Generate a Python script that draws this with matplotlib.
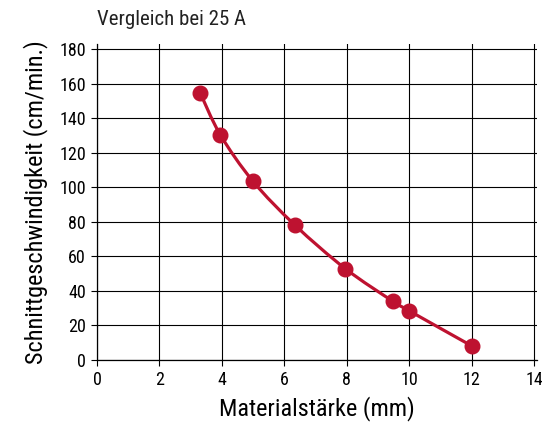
import matplotlib.pyplot as plt
from matplotlib import font_manager
from matplotlib.path import Path
from matplotlib.patches import PathPatch

thickness = [3.3, 3.95, 5.0, 6.35, 7.95, 9.48, 10.0, 12.02]
speed = [155, 130.5, 103.5, 78, 53, 34, 28.5, 8]

xticks = list(range(0, 15, 2))
yticks = list(range(0, 181, 20))

names = {f.name for f in font_manager.fontManager.ttflist}
fam = [n for n in ["Roboto Condensed", "Liberation Sans Narrow", "Roboto"] if n in names] + ["DejaVu Sans"]
plt.rcParams['font.family'] = fam

red = '#BE1230'

fig = plt.figure(figsize=(5.42, 4.25), dpi=100)
ax = fig.add_axes([0.179, 0.153, 0.812, 0.743])

# smooth line through the points (Catmull-Rom as cubic Bezier)
pts = list(zip(thickness, speed))
verts = [pts[0]]
codes = [Path.MOVETO]
for i in range(len(pts) - 1):
    p0 = pts[i - 1] if i > 0 else pts[i]
    p1, p2 = pts[i], pts[i + 1]
    p3 = pts[i + 2] if i + 2 < len(pts) else pts[i + 1]
    c1 = (p1[0] + (p2[0] - p0[0]) / 6, p1[1] + (p2[1] - p0[1]) / 6)
    c2 = (p2[0] - (p3[0] - p1[0]) / 6, p2[1] - (p3[1] - p1[1]) / 6)
    verts += [c1, c2, p2]
    codes += [Path.CURVE4] * 3
ax.add_patch(PathPatch(Path(verts, codes), facecolor='none', edgecolor=red,
                       linewidth=2.3, capstyle='round', zorder=3))
ax.plot(thickness, speed, linestyle='none', color=red, marker='o', markersize=10.5, zorder=4)

ax.set_xlim(0, 14.1)
ax.set_ylim(0, 183)
ax.set_xticks(xticks)
ax.set_yticks(yticks)
ax.grid(True, color='black', linewidth=0.8)
ax.set_axisbelow(True)
for side in ['top', 'right']:
    ax.spines[side].set_visible(False)
for side in ['left', 'bottom']:
    ax.spines[side].set_linewidth(0.9)
ax.tick_params(direction='out', length=4, width=0.8, labelsize=13, pad=4)

ax.set_xlabel('Materialstärke (mm)', fontsize=17.5, labelpad=5)
ax.set_ylabel('Schnittgeschwindigkeit (cm/min.)', fontsize=17.5, labelpad=8)
fig.text(0.179, 0.955, 'Vergleich bei 25 A', fontsize=15, ha='left', va='center', color='#222222')

fig.savefig('out.png', dpi=100)
